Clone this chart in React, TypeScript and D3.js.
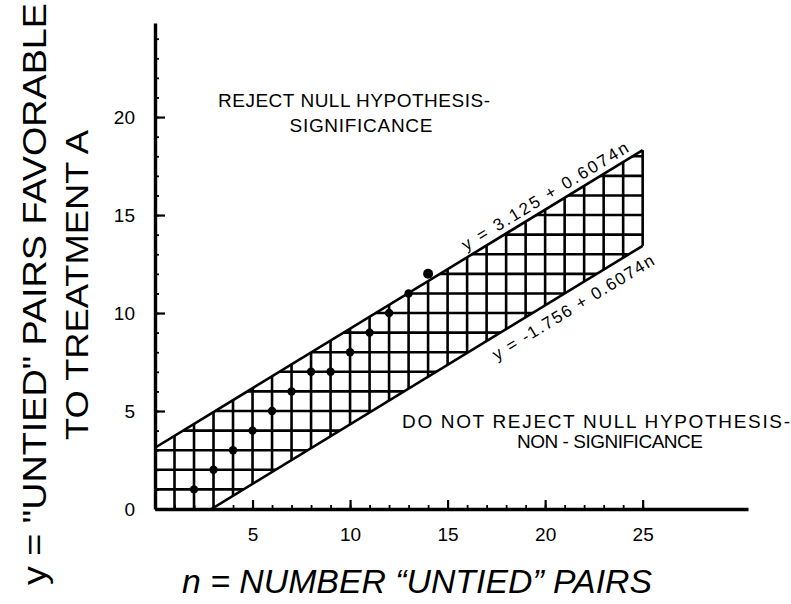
import React, { useRef, useEffect } from 'react';
import * as d3 from 'd3';

// Critical values (dots).
const nValues = [2, 3, 4, 5, 6, 7, 8, 9, 10, 11, 12, 13, 14];
const yValues = [1, 2, 3, 4, 5, 6, 7, 7, 8, 9, 10, 11, 12];

// Boundary lines y = a + b n.
const upperLine = { a: 3.125, b: 0.6074, label: 'y = 3.125 + 0.6074n' };
const lowerLine = { a: -1.756, b: 0.6074, label: 'y = -1.756 + 0.6074n' };
const nMax = 25;

const xTicks = [5, 10, 15, 20, 25];
const yTicks = [0, 5, 10, 15, 20];
const xMinorTicks = d3.range(1, 26);
const yMinorTicks = d3.range(1, 25);

const FONT = '"Liberation Sans", Arial, sans-serif';

const App = () => {
  const ref = useRef<SVGSVGElement>(null);

  useEffect(() => {
    const svg = d3.select(ref.current);
    svg.selectAll('*').remove();

    const x = d3.scaleLinear().domain([0, 30.4]).range([155, 748]);
    const y = d3.scaleLinear().domain([0, 24.8]).range([509, 23]);

    // Band region between the two lines.
    const nStart = -lowerLine.a / lowerLine.b;
    const band: [number, number][] = [
      [0, 0],
      [0, upperLine.a],
      [nMax, upperLine.a + upperLine.b * nMax],
      [nMax, lowerLine.a + lowerLine.b * nMax],
      [nStart, 0],
    ];

    svg.append('defs').append('clipPath').attr('id', 'band')
      .append('path')
      .attr('d', d3.line()(band.map(([n, v]) => [x(n), y(v)]) as [number, number][]) + 'Z');

    // Cross hatching.
    const grid = svg.append('g').attr('clip-path', 'url(#band)')
      .attr('stroke', '#000').attr('stroke-width', 2.6);

    grid.selectAll('.h')
      .data(d3.range(1, 19))
      .join('line')
        .attr('x1', x(0)).attr('x2', x(nMax))
        .attr('y1', d => y(d)).attr('y2', d => y(d));

    grid.selectAll('.v')
      .data(d3.range(1, nMax))
      .join('line')
        .attr('x1', d => x(d)).attr('x2', d => x(d))
        .attr('y1', y(0)).attr('y2', y(19));

    // Boundary lines.
    const line = d3.line<number[]>().x(d => x(d[0])).y(d => y(d[1]));
    const edges = svg.append('g').attr('fill', 'none').attr('stroke', '#000').attr('stroke-width', 2.6);
    edges.append('path').attr('d', line([[0, upperLine.a], [nMax, upperLine.a + upperLine.b * nMax]]));
    edges.append('path').attr('d', line([[nStart, 0], [nMax, lowerLine.a + lowerLine.b * nMax]]));
    edges.append('path').attr('d', line([[nMax, lowerLine.a + lowerLine.b * nMax], [nMax, upperLine.a + upperLine.b * nMax]]));

    // Dots.
    svg.append('g').selectAll('circle')
      .data(nValues.map((n, i) => ({ n, v: yValues[i] })))
      .join('circle')
        .attr('cx', d => x(d.n))
        .attr('cy', d => y(d.v))
        .attr('r', (d, i) => (i === nValues.length - 1 ? 5 : 4.2))
        .attr('fill', '#000');

    // Axes.
    const styleAxis = (g: any, fontSize: number) => {
      g.select('.domain').attr('stroke-width', 3.4);
      g.selectAll('.tick line').attr('stroke-width', 2.2);
      g.selectAll('.tick text')
        .attr('font-family', FONT)
        .attr('font-size', fontSize)
        .attr('fill', '#000');
    };

    svg.append('g')
      .attr('transform', `translate(0,${y(0)})`)
      .call(d3.axisBottom(x).tickValues(xMinorTicks).tickSize(-4).tickFormat(() => ''))
      .call(g => g.select('.domain').remove())
      .call(g => g.selectAll('.tick line').attr('stroke-width', 1.8));

    svg.append('g')
      .attr('transform', `translate(${x(0)},0)`)
      .call(d3.axisLeft(y).tickValues(yMinorTicks).tickSize(-4).tickFormat(() => ''))
      .call(g => g.select('.domain').remove())
      .call(g => g.selectAll('.tick line').attr('stroke-width', 1.8));

    svg.append('g')
      .attr('transform', `translate(0,${y(0)})`)
      .call(d3.axisBottom(x).tickValues(xTicks).tickSize(-9).tickSizeOuter(0).tickPadding(19))
      .call(g => styleAxis(g, 19));

    svg.append('g')
      .attr('transform', `translate(${x(0)},0)`)
      .call(d3.axisLeft(y).tickValues(yTicks).tickSize(-10).tickSizeOuter(0).tickPadding(20))
      .call(g => styleAxis(g, 19));

    // Line labels, rotated along the lines.
    const angle = Math.atan2(y(upperLine.b) - y(0), x(1) - x(0)) * 180 / Math.PI;
    const lineLabel = (l: typeof upperLine, n: number, dy: number, len: number) => {
      svg.append('text')
        .attr('transform', `translate(${x(n)},${y(l.a + l.b * n)}) rotate(${angle})`)
        .attr('y', dy)
        .attr('text-anchor', 'middle')
        .attr('font-family', FONT)
        .attr('font-size', 17)
        .attr('textLength', len)
        .attr('lengthAdjust', 'spacing')
        .text(l.label);
    };
    lineLabel(upperLine, 20.3, -6, 192);
    lineLabel(lowerLine, 21, 22, 186);

    // Region captions.
    const caption = (t: string, cx: number, by: number, len: number) => {
      svg.append('text')
        .attr('x', cx).attr('y', by)
        .attr('text-anchor', 'middle')
        .attr('font-family', FONT)
        .attr('font-size', 19)
        .attr('textLength', len)
        .attr('lengthAdjust', 'spacing')
        .text(t);
    };
    caption('REJECT NULL HYPOTHESIS-', 354, 107, 272);
    caption('SIGNIFICANCE', 361, 132, 143);
    caption('DO NOT REJECT NULL HYPOTHESIS-', 596, 428, 388);
    caption('NON - SIGNIFICANCE', 610, 448, 186);

    // Axis titles.
    svg.append('text')
      .attr('x', 182).attr('y', 593)
      .attr('font-family', FONT)
      .attr('font-size', 33)
      .attr('font-style', 'italic')
      .attr('textLength', 470)
      .attr('lengthAdjust', 'spacingAndGlyphs')
      .text('n = NUMBER \u201CUNTIED\u201D PAIRS');

    svg.append('text')
      .attr('transform', 'translate(46,294) rotate(-90)')
      .attr('text-anchor', 'middle')
      .attr('font-family', FONT)
      .attr('font-size', 34)
      .attr('textLength', 582)
      .attr('lengthAdjust', 'spacingAndGlyphs')
      .text('y = "UNTIED" PAIRS FAVORABLE');

    svg.append('text')
      .attr('transform', 'translate(88,285) rotate(-90)')
      .attr('text-anchor', 'middle')
      .attr('font-family', FONT)
      .attr('font-size', 32)
      .attr('textLength', 310)
      .attr('lengthAdjust', 'spacingAndGlyphs')
      .text('TO TREATMENT A');
  }, []);

  return (
    <div style={{ position: 'absolute', left: 0, top: 0 }}>
      <svg ref={ref} width={791} height={604} style={{ display: 'block', background: '#fff' }} />
    </div>
  );
};

export default App;
